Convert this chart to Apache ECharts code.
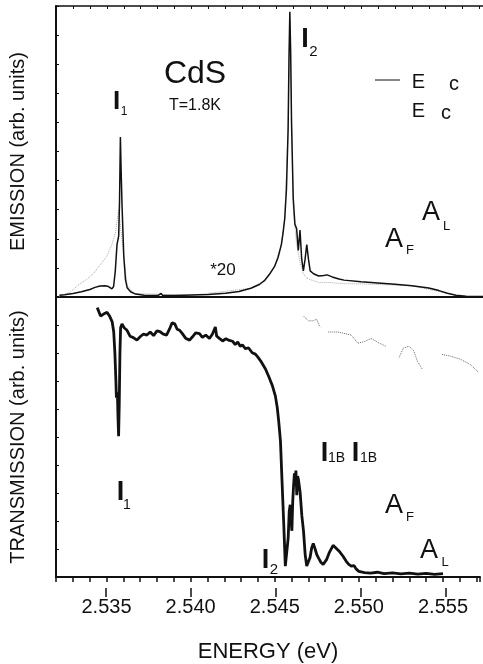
<!DOCTYPE html>
<html>
<head>
<meta charset="utf-8">
<script src="https://cdn.jsdelivr.net/npm/echarts@6/dist/echarts.min.js"></script>
<style>
  html, body { margin: 0; padding: 0; background: #fff; }
  #chart { width: 483px; height: 664px; }
</style>
</head>
<body>
<div id="chart"></div>
<script>
// emission, E || c (solid)
const emisE = [2.5322, 2.5325, 2.5330, 2.5335, 2.5340, 2.5343, 2.5346, 2.5349, 2.5351, 2.5353, 2.5354, 2.5355,
  2.5356, 2.5357, 2.53575, 2.5358, 2.53585, 2.5359, 2.5360, 2.5361, 2.5362, 2.5364, 2.5367, 2.5372, 2.5380,
  2.5382, 2.5383, 2.5390, 2.5400, 2.5410, 2.5420, 2.5428, 2.5435, 2.5440, 2.5443, 2.5446, 2.5449, 2.5451,
  2.5453, 2.5454, 2.5455, 2.5456, 2.5457, 2.54575, 2.5458, 2.54585, 2.5459, 2.5460, 2.5461, 2.5462, 2.5463,
  2.5464, 2.5465, 2.5466, 2.5467, 2.5468, 2.5469, 2.5470, 2.5472, 2.5475, 2.5478, 2.5480, 2.5483, 2.5487,
  2.5490, 2.5500, 2.5510, 2.5520, 2.5530, 2.5540, 2.5546, 2.5551, 2.5556, 2.5562, 2.5572];
const emisPar = [0.6, 0.8, 1.2, 1.8, 2.6, 3.3, 3.8, 3.9, 3.6, 2.8, 3.6, 9,
  18, 21, 33, 55, 42, 31, 14, 6, 3.2, 1.8, 1.0, 0.6, 0.5,
  1.2, 0.5, 0.5, 0.7, 0.9, 1.3, 1.9, 3.0, 4.3, 5.6, 7.8, 10.5, 13.5,
  18, 22, 27, 37, 58, 82, 98, 84, 60, 34, 25, 23.5, 16,
  23, 13, 9, 13, 18, 13, 9, 8, 7.2, 7.4, 7.6, 6.9, 6.2,
  5.8, 5.2, 4.8, 4.4, 3.9, 3.1, 2.2, 1.3, 0.6, 0.3, 0.2];

// emission, E perp c, x20 (dotted)
const emisPerpE = [2.5322, 2.5328, 2.5333, 2.5338, 2.5342, 2.5346, 2.5350, 2.5353, 2.5355, 2.5357, 2.5360,
  2.5362, 2.5366, 2.5400, 2.5435, 2.5443, 2.5449, 2.5453, 2.5455, 2.5457, 2.5458, 2.5460, 2.5462, 2.5464,
  2.5466, 2.5468, 2.5470, 2.5475, 2.5480, 2.5485, 2.5490, 2.5500, 2.5530, 2.5556];
const emisPerp = [0.3, 1.5, 4, 6, 8, 11, 14, 18, 22, 30, 14,
  4, 1.2, 0.6, 3.0, 5.6, 10.5, 18, 27, 58, 95, 30, 18, 12,
  8, 6.5, 6, 5, 5, 4.8, 4.6, 4.5, 3.9, 0.6];

// transmission, E || c (solid)
const transE = [2.53445, 2.53465, 2.53485, 2.53504, 2.53520, 2.53534, 2.53543, 2.53550, 2.53556, 2.53559,
  2.53565, 2.53568, 2.53572, 2.53576, 2.53580, 2.53584, 2.53592, 2.53605, 2.53622, 2.53640, 2.53660, 2.53681,
  2.53700, 2.53720, 2.53740, 2.53760, 2.53780, 2.53800, 2.53818, 2.53835, 2.53857, 2.53875, 2.53890, 2.53906,
  2.53920, 2.53935, 2.53950, 2.53970, 2.53994, 2.54010, 2.54030, 2.54053, 2.54070, 2.54090, 2.54112, 2.54130,
  2.54147, 2.54155, 2.54171, 2.54190, 2.54210, 2.54230, 2.54249, 2.54265, 2.54280, 2.54295, 2.54308, 2.54325,
  2.54345, 2.54366, 2.54385, 2.54400, 2.54416, 2.54430, 2.54445, 2.54465, 2.54485, 2.54504, 2.54515, 2.54524,
  2.54534, 2.54543, 2.54553, 2.54563, 2.54572, 2.54580, 2.54586, 2.54592, 2.54597, 2.54602, 2.54607, 2.54612,
  2.54617, 2.54622, 2.54626, 2.54631, 2.54636, 2.54641, 2.54651, 2.54661, 2.54671, 2.54681, 2.54690, 2.54700,
  2.54710, 2.54720, 2.54729, 2.54740, 2.54750, 2.54759, 2.54775, 2.54788, 2.54808, 2.54825, 2.54847, 2.54865,
  2.54886, 2.54905, 2.54925, 2.54940, 2.54955, 2.54971, 2.54985, 2.55000, 2.55034, 2.55070, 2.55110, 2.55150,
  2.55200, 2.55250, 2.55300, 2.55350, 2.55400, 2.55450, 2.55500];
const transPar = [96.2, 93.2, 94.0, 94.5, 93, 91.1, 87.6, 80, 70, 64,
  66, 58, 50.3, 62, 80, 89, 90.4, 89, 88.1, 86, 85.5, 84.6,
  85.8, 86.8, 86.4, 87.5, 86.2, 87.9, 87.6, 86.8, 86.4, 88.6, 90.8, 90.4,
  88.5, 88.1, 87.0, 85.3, 84.6, 85.7, 87.2, 86.9, 85.6, 86.4, 85.2, 86.8,
  89.3, 86.0, 85.2, 84.3, 85.1, 84.5, 84.2, 83.0, 83.9, 82.4, 82.9, 81.6,
  81.8, 80.1, 79.6, 78.5, 77.2, 75.8, 74.3, 71.5, 68.5, 64.6, 60.5, 55.4,
  48.6, 34.8, 19.9, 3.9, 3.9, 14, 23.4, 25.8, 20, 16.5, 27, 32.6,
  37, 34.8, 38, 29.2, 36, 34.8, 30.2, 22, 16.5, 8, 3.9, 4.5,
  7, 10.5, 12, 10, 8, 6.9, 5.2, 4.5, 6.2, 8.8, 11.3, 10.3,
  9.0, 7.5, 5.6, 4.5, 3.9, 4.1, 2.8, 2.0, 1.6, 1.4, 1.7, 1.2,
  1.5, 1.1, 1.4, 1.0, 1.3, 0.9, 1.2];

// transmission, E perp c (dotted, with gaps)
const transPerpE = [2.54671, 2.54700, 2.54729, 2.54749, 2.54769, 2.54790, 2.54818, 2.54876, 2.54955, 2.54994,
  2.55034, 2.55072, 2.55122, 2.55161, 2.55200, 2.55239, 2.55265, 2.55298, 2.55327, 2.55347, 2.55376, 2.55430,
  2.55494, 2.55543, 2.55602, 2.55660, 2.55710];
const transPerp = [93.2, 91.5, 91.5, 92.1, 89.2, null, 87.5, 87.5, 86.4, 83.5,
  84.1, 85.2, 83.5, 82.4, null, 78.4, 81.8, 82.4, 80.7, 77.2, 74.3, null,
  79.5, 78.9, 77.8, 76.0, 73.2];

const majorTicks = [2.535, 2.540, 2.545, 2.550, 2.555];
const xMin = 2.532;
const xMax = 2.5572;

const pairs = (xs, ys) => xs.map((x, i) => [x, ys[i] == null ? '-' : ys[i]]);

const chart = echarts.init(document.getElementById('chart'));
const font = 'Liberation Sans, Arial, sans-serif';
const ink = '#111';

const rects = [
  { left: 55, right: 0, top: 6, height: 291 },
  { left: 55, right: 0, top: 297, height: 291 },
  { left: 55, right: 0, top: 297, height: 291 },
];

const txt = (text, x, y, size, weight) => ({
  type: 'text',
  x: x,
  y: y,
  z: 100,
  style: {
    text: text,
    font: (weight || 'normal') + ' ' + size + 'px ' + font,
    fill: ink,
    align: 'center',
    verticalAlign: 'middle',
  },
});

const option = {
  animation: false,
  backgroundColor: '#fff',
  grid: rects,
  xAxis: [
    {
      gridIndex: 0, type: 'value', min: xMin, max: xMax, position: 'bottom',
      axisLine: { show: true, lineStyle: { color: ink, width: 2 } },
      axisTick: { show: false }, axisLabel: { show: false }, splitLine: { show: false },
    },
    {
      gridIndex: 0, type: 'value', min: xMin, max: xMax, interval: 0.001, position: 'top',
      axisLine: { show: true, lineStyle: { color: ink, width: 1.5 } },
      axisTick: { show: true, inside: true, length: 3, lineStyle: { color: ink } },
      axisLabel: { show: false }, splitLine: { show: false },
    },
    {
      gridIndex: 1, type: 'value', min: xMin, max: xMax, interval: 0.001, position: 'bottom',
      axisLine: { show: true, lineStyle: { color: ink, width: 2 } },
      axisTick: { show: true, length: 5, lineStyle: { color: ink, width: 1.5 } },
      axisLabel: {
        show: true, margin: 20, color: ink, fontSize: 20, fontFamily: font,
        formatter: (v) => (Math.round(v * 1000) % 5 === 0 ? v.toFixed(3) : ''),
      },
      splitLine: { show: false },
      name: 'ENERGY (eV)', nameLocation: 'middle', nameGap: 64,
      nameTextStyle: { color: ink, fontSize: 22, fontFamily: font },
    },
    {
      gridIndex: 2, type: 'value', min: xMin, max: xMax, position: 'bottom',
      axisLine: { show: false },
      axisTick: { show: true, length: 9, customValues: majorTicks, lineStyle: { color: ink, width: 1.5 } },
      axisLabel: { show: false }, splitLine: { show: false },
    },
  ],
  yAxis: [
    {
      gridIndex: 0, type: 'value', min: 0, max: 100, interval: 10,
      axisLine: { show: true, lineStyle: { color: ink, width: 2 } },
      axisTick: { show: true, inside: true, length: 3, lineStyle: { color: ink } },
      axisLabel: { show: false }, splitLine: { show: false },
      name: 'EMISSION (arb. units)', nameLocation: 'middle', nameGap: 28, nameRotate: 90,
      nameTextStyle: { color: ink, fontSize: 20, fontFamily: font },
    },
    {
      gridIndex: 1, type: 'value', min: 0, max: 100, interval: 10,
      axisLine: { show: true, lineStyle: { color: ink, width: 2 } },
      axisTick: { show: true, inside: true, length: 3, lineStyle: { color: ink } },
      axisLabel: { show: false }, splitLine: { show: false },
      name: 'TRANSMISSION (arb. units)', nameLocation: 'middle', nameGap: 28, nameRotate: 90,
      nameTextStyle: { color: ink, fontSize: 20, fontFamily: font },
    },
    {
      gridIndex: 2, type: 'value', min: 0, max: 100, show: false,
    },
  ],
  series: [
    {
      name: 'E perp c x20', type: 'line', xAxisIndex: 0, yAxisIndex: 0,
      data: pairs(emisPerpE, emisPerp), showSymbol: false,
      lineStyle: { color: '#a8a8a8', width: 1, type: 'dotted' },
    },
    {
      name: 'E || c', type: 'line', xAxisIndex: 0, yAxisIndex: 0,
      data: pairs(emisE, emisPar), showSymbol: false,
      lineStyle: { color: ink, width: 1.5 },
    },
    {
      name: 'T perp', type: 'line', xAxisIndex: 2, yAxisIndex: 1,
      data: pairs(transPerpE, transPerp), showSymbol: false, connectNulls: false,
      lineStyle: { color: '#6a6a6a', width: 1, type: 'dotted' },
    },
    {
      name: 'T par', type: 'line', xAxisIndex: 2, yAxisIndex: 1,
      data: pairs(transE, transPar), showSymbol: false,
      lineStyle: { color: ink, width: 2.8 },
    },
  ],
  graphic: [
    txt('CdS', 195, 74, 32),
    txt('T=1.8K', 195, 106, 16),
    txt('I', 116.5, 102, 26, 'bold'),
    txt('1', 124, 112, 12),
    txt('I', 305, 40, 27, 'bold'),
    txt('2', 313.5, 52, 15),
    {
      type: 'line', z: 100,
      shape: { x1: 375, y1: 80, x2: 400, y2: 80 },
      style: { stroke: ink, lineWidth: 1 },
    },
    txt('E', 418.5, 82, 20),
    txt('c', 454, 84, 20),
    txt('E', 418.5, 111, 20),
    txt('c', 446, 113, 20),
    txt('*20', 223, 270, 17),
    txt('A', 431, 213, 27),
    txt('L', 446.5, 226, 13),
    txt('A', 394, 240, 27),
    txt('F', 410, 250, 13),
    txt('I', 120.5, 493, 27, 'bold'),
    txt('1', 127, 505, 14),
    txt('I', 265.5, 561, 27, 'bold'),
    txt('2', 274, 570, 15),
    txt('I', 324.5, 454, 27, 'bold'),
    txt('1B', 336.5, 458, 14),
    txt('I', 355.5, 454, 27, 'bold'),
    txt('1B', 368.5, 458, 14),
    txt('A', 394, 506, 27),
    txt('F', 410, 517, 13),
    txt('A', 429, 551, 27),
    txt('L', 445, 562, 13),
  ],
};

chart.setOption(option);
</script>
</body>
</html>
